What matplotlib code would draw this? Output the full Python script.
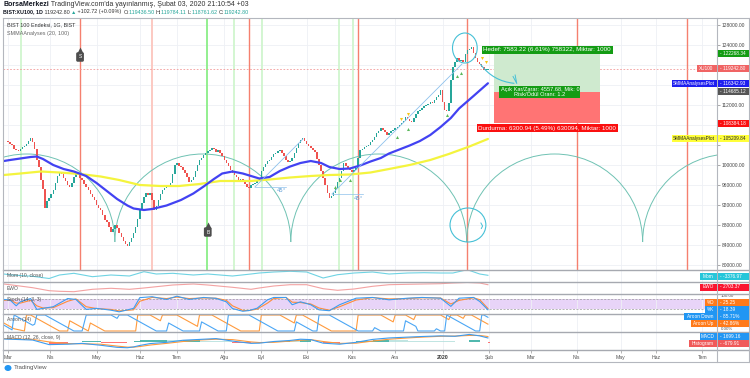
import matplotlib
matplotlib.use("Agg")
import numpy as np
import matplotlib.pyplot as plt
from matplotlib.patches import Rectangle, Arc, Ellipse, FancyArrowPatch
from matplotlib.lines import Line2D

plt.rcParams["font.family"] = ["Liberation Sans", "DejaVu Sans"]

W, H = 750, 378

# BIST 100 daily closes, 1 Mar 2019 .. 3 Feb 2020
closes = [
    104600, 104200, 104000, 103300, 103000, 102800, 103200, 103600, 103800, 104300,
    104900, 105400, 104600, 103200, 101000, 99600, 97000, 95200, 91500, 92800,
    93500, 94200, 95000, 96400, 97800, 98600, 98200, 97500, 96800, 96000,
    95600, 96500, 97600, 98400, 98000, 97400, 97000, 96200, 95600, 95000,
    94200, 93600, 93000, 92000, 91400, 91000, 90000, 89000, 88600, 87600,
    86600, 87200, 88000, 87400, 86400, 85600, 84800, 84300, 83800, 84600,
    85500, 86400, 87600, 89200, 91000, 92400, 93600, 94400, 94000, 94500,
    93000, 91000, 91800, 93000, 94200, 95000, 95400, 95800, 96000, 96400,
    98200, 100000, 100400, 99800, 99600, 99000, 98500, 97600, 96600, 97000,
    97600, 98800, 100000, 101000, 101400, 102000, 102400, 102800, 103000, 103400,
    103200, 102600, 103000, 102400, 101800, 101000, 100400, 99800, 99000, 98400,
    98000, 97600, 97000, 97300, 96800, 96200, 95600, 95400, 96000, 96300,
    96400, 97000, 97400, 98800, 99600, 100200, 100800, 101000, 101600, 102200,
    102400, 102800, 103000, 102400, 101800, 101000, 100600, 100800, 101400, 102400,
    103400, 104400, 105000, 105400, 104800, 104200, 103800, 103400, 103000, 102600,
    101200, 100000, 98800, 97400, 96000, 94400, 93400, 93800, 94400, 95500,
    96600, 97400, 98800, 100400, 99800, 99400, 99000, 98600, 99000, 99400,
    101400, 103000, 103200, 103600, 103800, 104000, 104600, 105000, 105600, 106400,
    106800, 107400, 107000, 106600, 106000, 106400, 106800, 107000, 107400, 107600,
    108000, 108400, 108800, 109600, 109200, 108800, 108600, 109400, 110200, 110800,
    111000, 111400, 111800, 112000, 112200, 112600, 112400, 113000, 113600, 114000,
    115000, 112600, 111000, 110800, 112400, 117000, 119600, 120600, 121400, 120800,
    121000, 120600, 122200, 123000, 123200, 123600, 122400, 121400, 120600, 120200,
    119600, 119000, 119100, 119242.80,
]
first_open = 104900

smma20_x = [-2, 1, 6, 11, 14, 17, 22, 27, 32, 38, 43, 48, 53, 58, 61, 66, 70, 77, 84, 90,
            95, 100, 104, 109, 114, 118, 122, 127, 132, 137, 142, 147, 152, 156, 161, 166,
            171, 176, 181, 185, 190, 195, 200, 205, 210, 215, 219, 226, 233]
smma20 = [100800, 101000, 101300, 101600, 101700, 101200, 100000, 99200, 98700, 97800,
          96400, 94800, 93200, 91900, 91300, 91000, 91200, 91900, 93000, 94300, 95700,
          97200, 98300, 98700, 98300, 97800, 97300, 97600, 98800, 99700, 100400, 100800,
          100400, 99600, 99200, 99300, 99900, 100700, 101400, 102300, 103100, 103900,
          104800, 106000, 107600, 109400, 111300, 113800, 116342.93]
smma100_x = [-2, 6, 16, 25, 35, 45, 54, 64, 74, 83, 93, 103, 113, 118, 127, 137, 147, 156,
             166, 176, 185, 195, 205, 214, 224, 233]
smma100 = [98000, 98300, 98700, 98500, 98200, 97700, 97000, 96000, 95800, 95800, 96200,
           96800, 96800, 96800, 97100, 97500, 97800, 98000, 98100, 98500, 99200, 100000,
           101000, 102200, 103700, 105209.84]

# long position tool
entry = 114685.12
target = 122268.34
stop = 108384.18
pos_start, pos_end = 236, 287.5

# drawings
red_lines = [35, 117, 170, 222.8, 276.2, 329.6]
red_light_lines = [70]
green_lines = [96.6]
green_light_lines = [6.3, 109.7, 123.3, 160.7, 167.5]
cycle_start, cycle_len = 51.9, 85.4
cycle_base, cycle_top = 84600, 102200
angle_lines = [((119.9, 95600), (143.2, 105200)), ((157.3, 94200), (220.4, 120200))]
tri_up_x = [159, 161, 166, 189, 194, 213, 218, 220]
tri_up_y = [95600, 97000, 97000, 105600, 107200, 110000, 117800, 118400]
tri_dn_x = [191, 194, 230, 232]
tri_dn_y = [109200, 110200, 121400, 120600]

month_labels = ["Mar", "Nis", "May", "Haz", "Tem", "Ağu", "Eyl", "Eki", "Kas", "Ara",
                "2020", "Şub", "Mar", "Nis", "May", "Haz", "Tem"]
month_bars = [0, 20.5, 43, 64, 82, 105, 123, 145, 167, 188, 211, 233.5, 254, 276, 297.5,
              314.5, 337]
price_ticks = list(range(80000, 128001, 4000))

# indicators
mom_x = [-2, 2, 12, 20, 25, 32, 41, 50, 59, 66, 72, 80, 90, 97, 109, 118, 122, 129, 137,
         145, 153, 160, 168, 177, 185, 194, 202, 210, 216, 223, 229, 233]
mom = [0, -2600, -6000, -11700, -2600, 1820, -7000, -2600, -5200, 5980, 0, 1820, -2600, 0,
       -5200, 0, 2600, 5200, 7020, 5200, -10400, -1820, 2600, 5200, 0, 2600, 3380, 2600,
       2600, 11180, 0, -3376.97]
ewo = [3280, 2460, 246, -2214, -2706, -3034, -1066, -246, -1066, 0, 1066, 2460, 3280, 2460,
       574, -1066, 0, 1640, 2706, 2706, -574, -1886, -820, 1394, 2706, 3034, 3280, 3526,
       4100, 4510, 4100, 2703.37]

stoch_x = [-2, 1, 4, 6, 11, 14, 17, 22, 29, 33, 38, 43, 50, 54, 61, 64, 70, 77, 82, 88, 95,
           101, 106, 109, 114, 117, 121, 126, 129, 135, 138, 142, 147, 151, 156, 161, 169,
           177, 185, 194, 201, 210, 215, 219, 226, 229, 233]
stoch_k = [75, 72, 40, 62, 80, 20, 26, 35, 80, 75, 20, 26, 16, 7, 26, 85, 90, 75, 93, 75, 86,
           81, 62, 25, 10, 14, 27, 73, 86, 86, 46, 62, 46, 18, 13, 46, 82, 86, 73, 82, 86,
           82, 37, 82, 86, 64, 18.39]
stoch_d = [70, 72, 55, 55, 70, 40, 28, 30, 65, 78, 35, 25, 20, 12, 18, 65, 86, 80, 88, 80,
           83, 82, 70, 40, 15, 14, 22, 55, 80, 86, 60, 58, 50, 28, 16, 35, 72, 85, 78, 80,
           84, 83, 50, 70, 84, 74, 25.25]

aroon_up_x = [-2, 3, 8, 9, 11, 25, 29, 30, 39, 40, 47, 62, 63, 69, 74, 75, 82, 92, 93, 99,
              113, 122, 123, 132, 139, 140, 143, 157, 169, 170, 181, 187, 188, 193, 197,
              198, 210, 214, 215, 218, 221, 222, 225, 233]
aroon_up = [50, 14, 0, 100, 100, 0, 0, 64, 0, 50, 0, 0, 100, 100, 64, 100, 100, 29, 100,
            100, 0, 0, 100, 100, 50, 100, 100, 0, 0, 100, 100, 57, 100, 100, 71, 100, 100,
            71, 100, 100, 79, 100, 100, 42.86]
aroon_dn_x = [-2, 2, 3, 12, 13, 14, 18, 32, 36, 37, 38, 50, 53, 54, 58, 72, 77, 78, 85, 93,
              94, 102, 106, 107, 117, 131, 139, 140, 148, 150, 151, 156, 170, 177, 178, 181,
              192, 193, 198, 199, 207, 208, 210, 212, 213, 227, 229, 230, 231, 233]
aroon_dn = [37, 7, 100, 36, 43, 100, 100, 0, 0, 50, 100, 100, 79, 100, 100, 0, 0, 50, 0, 0,
            57, 0, 0, 100, 100, 0, 0, 57, 0, 0, 100, 100, 0, 0, 21, 0, 0, 64, 29, 0, 0, 14,
            0, 0, 100, 0, 0, 100, 100, 85.71]

macd_x = [-2, 12, 20, 29, 36, 45, 53, 58, 61, 64, 69, 77, 85, 93, 101, 109, 118, 122, 129,
          137, 142, 147, 153, 161, 169, 177, 185, 194, 201, 210, 217, 224, 229, 233]
macd = [1200, 700, -1500, -1300, -900, -1800, -2800, -3000, -2600, -1900, -1000, -400, 600,
        1000, 1400, 200, -900, -800, 0, 500, 1100, 900, -800, -1300, -400, 1000, 1700, 2100,
        2400, 2700, 2500, 3400, 2700, 1699.16]
macd_signal = [1400, 1000, -200, -1000, -1100, -1300, -2200, -2700, -2700, -2400, -1700, -900,
               0, 700, 1100, 900, -200, -500, -400, 200, 600, 900, 0, -900, -800, 200, 1100,
               1700, 2100, 2500, 2600, 2900, 2900, 2379.07]

BORDER = "#b4b7be"
GRID = "#eef0f5"
TEAL = "#26a69a"
RED = "#ef5350"

fig = plt.figure(figsize=(W / 100, H / 100), dpi=100)
fig.patch.set_facecolor("white")


def fx(x):
    return x / W


def fy(y):
    return 1 - y / H


def px_axes(x0, y0, x1, y1):
    a = fig.add_axes([fx(x0), fy(y1), (x1 - x0) / W, (y1 - y0) / H])
    a.set_xlim(-2.4, 344.2)
    for s in a.spines.values():
        s.set_visible(False)
    a.set_xticks(month_bars)
    a.grid(axis="x", color=GRID, lw=0.6)
    a.set_axisbelow(True)
    a.tick_params(length=0, labelbottom=False, labelleft=False)
    a.set_yticks([])
    return a


def py_of(a, v):
    return H - a.transData.transform((0, v))[1]


ax = px_axes(3, 18, 717, 270)
ax.set_ylim(79000, 129400)

# badges on the price scale hide the tick labels they sit on
main_badges = [target, closes[-1], smma20[-1], entry, stop, smma100[-1]]
ax.set_yticks(price_ticks)
ax.yaxis.tick_right()
tick_txt = []
for v in price_ticks:
    hidden = any(abs(py_of(ax, v) - py_of(ax, b)) < 6.5 for b in main_badges)
    tick_txt.append("" if hidden else f"{v:.2f}")
ax.set_yticklabels(tick_txt)
ax.tick_params(axis="y", length=2, width=0.5, color="#888", labelsize=3.5, labelcolor="#444",
               pad=1.5, labelright=True)
ax.grid(axis="y", color=GRID, lw=0.6)

# vertical signal lines
for b in red_lines:
    ax.axvline(b, color="#f5806f", lw=1.0, zorder=1)
for b in red_light_lines:
    ax.axvline(b, color="#fcc9c2", lw=1.4, zorder=1)
for b in green_lines:
    ax.axvline(b, color="#93ef8f", lw=1.4, zorder=1)
for b in green_light_lines:
    ax.axvline(b, color="#d3f6d1", lw=1.4, zorder=1)

# current price line
ax.axhline(closes[-1], color="#f19a9a", lw=0.6, ls=(0, (2, 2)), zorder=2)

# cycle arcs
for k in range(-1, 4):
    c = cycle_start + (k + 0.5) * cycle_len
    ax.add_patch(Arc((c, cycle_base), cycle_len, 2 * (cycle_top - cycle_base), theta1=0,
                     theta2=180, color="#6fc2b3", lw=0.7, zorder=3))

# long position tool
ax.add_patch(Rectangle((pos_start, entry), pos_end - pos_start, target - entry,
                       fc="#cfeacf", ec="none", zorder=2))
ax.add_patch(Rectangle((pos_start, stop), pos_end - pos_start, entry - stop,
                       fc="#ff7474", ec="none", zorder=2))
pm = (pos_start + pos_end) / 2
ax.text(pm, target + 800, "Hedef: 7583.22 (6.61%) 758322, Miktar: 1000", fontsize=4.5,
        color="white", ha="center", va="center", zorder=9,
        bbox=dict(boxstyle="square,pad=0.25", fc="#149c14", ec="none"))
ax.text(pm, stop - 1050, "Durdurma: 6300.94 (5.49%) 630094, Miktar: 1000", fontsize=4.5,
        color="white", ha="center", va="center", zorder=9,
        bbox=dict(boxstyle="square,pad=0.25", fc="#fa1010", ec="none"))
ax.text(pm - 3.5, entry - 100, "Açık Kar/Zarar: 4557.68, Mik: 0\nRisk/Ödül Oranı: 1.2",
        fontsize=4.1, color="white", ha="center", va="center", linespacing=1.0, zorder=9,
        bbox=dict(boxstyle="square,pad=0.2", fc="#149c14", ec="none"))

# candles
xs = np.arange(len(closes))
c_arr = np.array(closes)
o_arr = np.concatenate([[first_open], c_arr[:-1]])
up = c_arr >= o_arr
lo = np.minimum(o_arr, c_arr)
hi_h = np.maximum(np.abs(c_arr - o_arr), 160)
ax.bar(xs, hi_h, bottom=lo, width=0.72, color=np.where(up, TEAL, RED), lw=0, zorder=5)

# moving averages
ax.plot(smma100_x, smma100, color="#f4f43e", lw=1.6, zorder=6, solid_capstyle="round")
ax.plot(smma20_x, smma20, color="#4242f2", lw=1.6, zorder=6, solid_capstyle="round")

# trend angle drawings
for (x0, y0), (x1, y1) in angle_lines:
    ax.plot([x0, x1], [y0, y1], color="#8dc1ec", lw=0.6, zorder=7)
    ax.plot([x0, x0 + 15], [y0, y0], color="#8dc1ec", lw=0.5, zorder=7)
    ax.add_patch(Arc((x0, y0), 2 * 9, 2 * 3700, theta1=0, theta2=45, color="#8dc1ec",
                     lw=0.5, zorder=7))
    ax.text(x0 + 10.5, y0 - 300, "45°", fontsize=3.9, color="#5a9bd5", ha="left", va="top",
            zorder=7, family="DejaVu Sans")

# markers
ax.plot(tri_up_x, tri_up_y, ls="none", marker="^", ms=2.2, color="#5cb85c", mec="none",
        zorder=7)
ax.plot(tri_dn_x, tri_dn_y, ls="none", marker="v", ms=2.2, color="#f5c518", mec="none",
        zorder=7)
for b, p, s in [(35, 121600, "S"), (97, 86600, "B")]:
    ax.text(b, p, s, fontsize=3.6, color="white", ha="center", va="center", zorder=8,
            bbox=dict(boxstyle="round,pad=0.45,rounding_size=0.3", fc="#4d4d4d", ec="none"))
    ax.plot([b], [p + 1500], marker="^", ms=4.5, color="#4d4d4d", mec="none", zorder=8)

# circles and arrow around the top
ax.add_patch(Ellipse((221.8, 123400), 12, 6000, fill=False, ec="#45c0d6", lw=0.8, zorder=8))
ax.add_patch(Ellipse((223.3, 88000), 17.4, 6800, fill=False, ec="#45c0d6", lw=0.8, zorder=8))
ax.plot([229.6, 230.4, 229.8], [88400, 87800, 87300], color="#45c0d6", lw=0.7, zorder=8)
ax.add_patch(FancyArrowPatch((228.6, 120600), (247, 116300), connectionstyle="arc3,rad=0.25",
                             arrowstyle="-", color="#45c0d6", lw=0.8, zorder=8))
ax.plot([245.2, 247, 246.2], [117700, 116300, 118000], color="#45c0d6", lw=0.7, zorder=8)

# ---- sub panels ----
am = px_axes(3, 270, 717, 282)
am.set_ylim(-20800, 10400)
am.plot(mom_x, mom, color="#6fd3e3", lw=0.8)

ae = px_axes(3, 282, 717, 294)
ae.set_ylim(-4920, 4920)
ae.plot(mom_x, ewo, color="#f3a2a2", lw=0.8)

ast = px_axes(3, 294, 717, 314)
ast.set_ylim(-5, 105)
ast.axhspan(20, 80, color="#e8d4f8", lw=0, zorder=0)
for lvl in (20, 80):
    ast.axhline(lvl, color="#9a9a9a", lw=0.5, ls=(0, (3, 2)), zorder=1)
ast.plot(stoch_x, stoch_d, color="#ff8c3a", lw=0.8, zorder=3)
ast.plot(stoch_x, stoch_k, color="#3d9cf0", lw=0.8, zorder=3)

aa = px_axes(3, 314, 717, 332)
aa.set_ylim(-6.25, 106.25)
aa.plot(aroon_up_x, aroon_up, color="#ff9a3c", lw=0.8)
aa.plot(aroon_dn_x, aroon_dn, color="#4aa6f5", lw=0.8)

amc = px_axes(3, 332, 717, 350)
amc.set_ylim(-4080, 4560)
mx = np.array(macd_x, dtype=float)
hist = np.array(macd) - np.array(macd_signal)
widths = np.diff(mx, append=mx[-1] + 1)
hcols = []
for i, h in enumerate(hist):
    prev = hist[i - 1] if i else h
    if h >= 0:
        hcols.append("#26a69a" if h > prev else "#b2dfdb")
    else:
        hcols.append("#ff5252" if h < prev else "#ffcdd2")
amc.bar(mx, hist, width=widths, align="edge", color=hcols, lw=0, zorder=1, alpha=0.8)
amc.plot(macd_x, macd_signal, color="#ff9a3c", lw=0.8, zorder=3)
amc.plot(macd_x, macd, color="#3d9cf0", lw=0.8, zorder=3)
amc.set_xticks(month_bars)
amc.set_xticklabels(month_labels)
amc.tick_params(axis="x", length=2, width=0.5, color="#999", labelsize=3.7, labelcolor="#555",
                pad=1.5, labelbottom=True)
for t in amc.get_xticklabels():
    if t.get_text() == "2020":
        t.set_fontweight("bold")
        t.set_color("#333")


# ---- frame ----
def hline(y, x0=3, x1=749, color=BORDER, lw=0.8):
    fig.add_artist(Line2D([fx(x0), fx(x1)], [fy(y), fy(y)], transform=fig.transFigure,
                          color=color, lw=lw, zorder=30))


def vline(x, y0=18, y1=362, color=BORDER, lw=0.8):
    fig.add_artist(Line2D([fx(x), fx(x)], [fy(y0), fy(y1)], transform=fig.transFigure,
                          color=color, lw=lw, zorder=30))


for y in (18, 362):
    hline(y)
for y in (270, 282, 294, 314, 332, 350):
    hline(y, color="#a6a9b0", lw=1.0)
for x in (3, 717, 749):
    vline(x)


# ---- badges on the right scale ----
def badge(py, text, fc, tc="white", label=None, lab_w=0, h=7):
    fig.add_artist(Rectangle((fx(717.5), fy(py + h / 2)), 31 / W, h / H,
                             transform=fig.transFigure, fc=fc, ec="none", zorder=40))
    fig.text(fx(719.5), fy(py), "- " + text, fontsize=3.4, color=tc, va="center", ha="left",
             zorder=41)
    if label:
        fig.add_artist(Rectangle((fx(716.5 - lab_w), fy(py + h / 2)), lab_w / W, h / H,
                                 transform=fig.transFigure, fc=fc, ec="none", zorder=40))
        fig.text(fx(716.5 - lab_w / 2), fy(py), label, fontsize=3.4, color=tc, va="center",
                 ha="center", zorder=41)


badge(py_of(ax, target), "122268.34", "#149c14")
badge(py_of(ax, closes[-1]), "119242.80", "#f06464", label="XU100", lab_w=20)
badge(py_of(ax, smma20[-1]), "116342.93", "#1f1ff0", label="SMMAAnalysesPlot", lab_w=45)
badge(py_of(ax, entry), "114685.12", "#555555")
badge(py_of(ax, stop), "108384.18", "#fa1010")
badge(py_of(ax, smma100[-1]), "105209.84", "#ffff3a", tc="#222", label="SMMAAnalysesPlot",
      lab_w=45)
badge(276, "-3376.97", "#26c6da", label="Mom", lab_w=17)
badge(287, "2703.37", "#fa1530", label="EWO", lab_w=17)
badge(302, "25.25", "#ff7a1a", label="%D", lab_w=12)
badge(309.5, "18.39", "#2196f3", label="%K", lab_w=12)
badge(316.5, "85.71%", "#2196f3", label="Aroon Down", lab_w=33)
badge(323.5, "42.86%", "#ff7a1a", label="Aroon Up", lab_w=26)
badge(336, "1699.16", "#2196f3", label="MACD", lab_w=17)
badge(343.5, "-679.91", "#f05a5a", label="Histogram", lab_w=28)
fig.text(fx(721), fy(296), "100.00", fontsize=3.2, color="#555", va="center")
fig.text(fx(721), fy(329.5), "0.00%", fontsize=3.2, color="#555", va="center")

# ---- texts ----
renderer = fig.canvas.get_renderer()


def text_run(x, y, pieces, size):
    for s, color, weight in pieces:
        t = fig.text(fx(x), fy(y), s, fontsize=size, color=color, fontweight=weight,
                     ha="left", va="center")
        x += t.get_window_extent(renderer=renderer).width


text_run(3, 5, [("BorsaMerkezi", "#131722", "bold"),
                (" TradingView.com'da yayınlanmış, Şubat 03, 2020 21:10:54 +03", "#333",
                 "normal")], 5.0)
text_run(3, 12, [("BIST:XU100, 1D", "#131722", "bold"), (" 119242.80 ", "#333", "normal"),
                 ("▲", TEAL, "normal"), (" +102.72 (+0.09%) ", "#333", "normal"),
                 ("O:", "#333", "normal"), ("119436.50 ", TEAL, "normal"),
                 ("H:", "#333", "normal"), ("119784.11 ", TEAL, "normal"),
                 ("L:", "#333", "normal"), ("118761.62 ", TEAL, "normal"),
                 ("C:", "#333", "normal"), ("119242.80", TEAL, "normal")], 3.9)

fig.text(fx(7), fy(25), "BIST 100 Endeksi, 1G, BIST", fontsize=3.9, color="#333", va="center")
fig.text(fx(7), fy(33), "SMMAAnalyses (20, 100)", fontsize=3.9, color="#666", va="center")
for y, s in [(276, "Mom (10, close)"), (288, "EWO"), (300, "Stoch (14, 3, 3)"),
             (320, "Aroon (14)"), (338, "MACD (12, 26, close, 9)")]:
    fig.text(fx(7), fy(y), s, fontsize=3.6, color="#555", va="center", zorder=35)

# TradingView logo
fig.add_artist(Ellipse((fx(8), fy(368)), 7 / W, 6 / H, transform=fig.transFigure,
                       fc="#2196f3", ec="none"))
fig.text(fx(13.5), fy(368), "TradingView", fontsize=4.4, color="#555", va="center")

fig.savefig("out.png", dpi=100)
